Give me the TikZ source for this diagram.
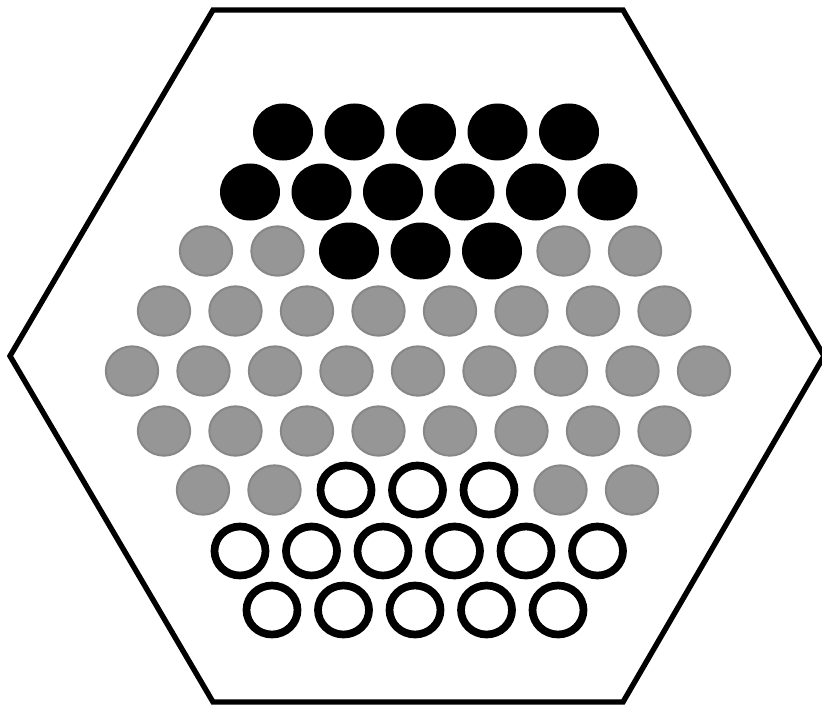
\documentclass[tikz,border=0pt]{standalone}
\usetikzlibrary{shapes.geometric}
\definecolor{peggray}{HTML}{969696}
\definecolor{pegedge}{HTML}{878787}

\begin{document}
\begin{tikzpicture}[
      x=0.03cm, y=-0.03cm,
      pegB/.style={ellipse, fill=black, inner sep=0pt, minimum width=1.8cm, minimum height=1.71cm},
      pegG/.style={ellipse, draw=pegedge, fill=peggray, line width=1.7pt, inner sep=0pt,
                   minimum width=1.57cm, minimum height=1.48cm},
      pegW/.style={ellipse, draw=black, fill=white, line width=6.6pt, inner sep=0pt,
                   minimum width=1.53cm, minimum height=1.47cm},
      board/.style={draw=black, line width=4.6pt, line join=miter}
  ]
    \useasboundingbox (0,0) rectangle (822,705);

    % --- Board outline (hexagon) ---
    \coordinate (b1) at (213,10);
    \coordinate (b2) at (623,10);
    \coordinate (b3) at (824,356);
    \coordinate (b4) at (623,702);
    \coordinate (b5) at (213,702);
    \coordinate (b6) at (10,356);
    \draw[board] (b1) -- (b2) -- (b3) -- (b4) -- (b5) -- (b6) -- cycle;

    % --- Pegs, row by row (row/y/first x/kinds) ---
    \foreach \r/\y/\xo/\kinds in {
        1/132/283/{pegB,pegB,pegB,pegB,pegB},
        2/192/250/{pegB,pegB,pegB,pegB,pegB,pegB},
        3/251/206/{pegG,pegG,pegB,pegB,pegB,pegG,pegG},
        4/311/164/{pegG,pegG,pegG,pegG,pegG,pegG,pegG,pegG},
        5/371/132/{pegG,pegG,pegG,pegG,pegG,pegG,pegG,pegG,pegG},
        6/431/164/{pegG,pegG,pegG,pegG,pegG,pegG,pegG,pegG},
        7/490/203/{pegG,pegG,pegW,pegW,pegW,pegG,pegG},
        8/551/240/{pegW,pegW,pegW,pegW,pegW,pegW},
        9/610/272/{pegW,pegW,pegW,pegW,pegW}} {
      \foreach \k [count=\i from 0] in \kinds {
        \node[\k] (p\r-\i) at (\xo+71.5*\i, \y) {};
      }
    }

  \end{tikzpicture}
\end{document}
